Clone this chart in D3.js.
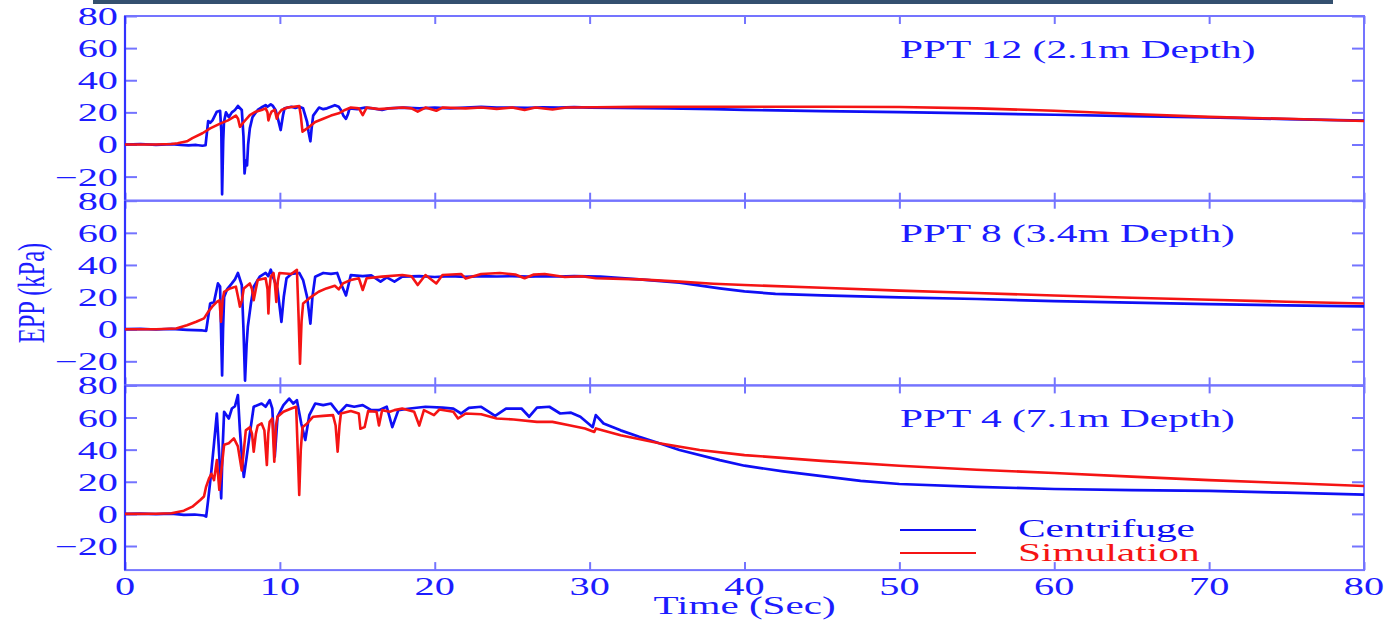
<!DOCTYPE html>
<html>
<head>
<meta charset="utf-8">
<script src="https://cdn.jsdelivr.net/npm/d3@7"></script>
<style>
  html, body { margin: 0; padding: 0; background: #ffffff; }
  svg { display: block; }
  text { font-family: "Liberation Serif", "DejaVu Serif", serif; }
</style>
</head>
<body>
<svg id="chart" width="1388" height="624"></svg>
<script>
// ---------------- DATA ----------------
const xTicks = [0, 10, 20, 30, 40, 50, 60, 70, 80];
const yTicks = [-20, 0, 20, 40, 60, 80];
const yTickLabels = ["\u221220", "0", "20", "40", "60", "80"];
const panelTitles = ["PPT 12 (2.1m Depth)", "PPT 8 (3.4m Depth)", "PPT 4 (7.1m Depth)"];
const seriesNames = ["Centrifuge", "Simulation"];
const xLabel = "Time (Sec)";
const yLabel = "EPP (kPa)";

// PPT 12 (2.1 m)
const ppt12Centrifuge = [[0,0],[1,0.3],[2,-0.2],[3,0.2],[3.6,-0.3],[4.1,-0.6],[4.6,-0.3],[5.0,-0.8],[5.2,-0.5],[5.37,14.6],[5.5,13.5],[5.65,15],[5.93,20.4],[6.14,21],[6.22,8],[6.27,-31],[6.34,2],[6.39,14],[6.52,20],[6.7,17],[6.9,20],[7.1,21.5],[7.29,24],[7.54,21.5],[7.65,5],[7.72,-18],[7.8,-10],[7.88,-13],[7.95,0],[8.06,10],[8.23,17],[8.57,21.5],[8.8,23],[9.08,24.5],[9.2,23.5],[9.41,25],[9.55,24],[9.72,21.5],[9.9,15],[10.05,9],[10.2,18],[10.3,22.5],[10.74,23.5],[11.0,22.8],[11.25,23.5],[11.5,22.5],[11.76,14],[11.85,8],[11.97,2],[12.05,10],[12.15,18],[12.53,23],[12.8,22],[13.04,22.5],[13.3,23.5],[13.55,24.5],[13.8,23.5],[13.94,21.5],[14.1,18],[14.27,16],[14.4,19],[14.5,22.5],[15,22],[15.5,23],[16,22.5],[16.6,21.5],[17,22.5],[18,23],[19,22.5],[20,23],[21,22.5],[22,23],[23,23.5],[24,23],[25,23],[26,22.8],[27,23.2],[28,23],[29,23.3],[30,23],[32,22.8],[35,22.5],[38,22],[40,21.5],[45,20.8],[50,20.2],[55,19.4],[60,18.5],[65,17.7],[70,16.9],[75,15.8],[80,14.8]];
const ppt12Simulation = [[0,0],[2,0],[3,0.3],[3.4,0.8],[4,2],[4.35,4],[5,7],[5.5,10],[6.14,13],[6.65,15],[7.16,18],[7.3,16],[7.42,11],[7.67,14],[8.06,18.3],[8.44,20.4],[8.82,21.5],[9.08,22.5],[9.2,20],[9.26,15],[9.35,18],[9.46,20.4],[9.67,21.5],[9.8,16],[9.9,19],[10.1,21.5],[10.49,23],[10.9,23.5],[11.25,24],[11.35,18],[11.46,8],[11.76,10],[12.28,14],[12.8,16],[13.3,18],[13.8,19.4],[14.2,21.5],[14.58,23],[15.1,22.5],[15.35,18.3],[15.6,23],[16.4,22],[17.9,23],[18.5,22.5],[18.9,20.4],[19.4,23],[20.1,21],[20.5,23],[22,22.5],[23,23],[24,22.2],[25,23],[25.8,21.5],[26.5,23],[27.6,21.8],[28.5,23],[30.4,23.2],[33,23.4],[36,23.5],[40,23.5],[45,23.5],[50,23.3],[55,22.5],[60,21],[65,19],[70,17.2],[75,16],[80,14.6]];

// PPT 8 (3.4 m)
const ppt8Centrifuge = [[0,0],[1,0.2],[2,-0.2],[3,0.2],[4,-0.4],[4.5,-0.6],[5.0,-0.8],[5.24,-1],[5.5,16],[5.75,17],[6.0,28.5],[6.14,26.5],[6.2,0],[6.27,-28.8],[6.33,0],[6.4,20],[6.6,25],[6.9,28.5],[7.1,31],[7.29,35],[7.54,27.5],[7.65,0],[7.75,-32],[7.85,-10],[7.93,1.5],[8.13,16],[8.31,26.5],[8.7,32.7],[9.08,35],[9.25,33],[9.41,37],[9.59,31.7],[9.85,25],[10.1,4.6],[10.25,20],[10.43,31.7],[10.74,34.4],[11.25,35],[11.5,30.6],[11.76,20],[11.97,3.5],[12.1,20],[12.28,32.7],[12.8,35],[13.3,34.4],[13.7,35],[13.94,28.5],[14.27,21],[14.58,33.7],[15.35,33],[15.9,33.5],[16.5,29.6],[16.9,32.3],[17.4,29.6],[17.9,32.7],[19,33],[20,32.5],[21,33],[22,32.6],[23,33],[24,32.8],[25,33],[26,32.7],[27,33],[28,32.8],[29,33],[30.7,32.7],[33.2,31],[35.8,29],[38.4,25.4],[40,23.5],[42,22],[45,21],[50,19.8],[55,18.8],[60,17.5],[65,16.5],[70,15.6],[75,14.8],[80,14.2]];
const ppt8Simulation = [[0,0],[2,0],[3.3,0.4],[4,2.5],[4.6,4.6],[5.1,6.7],[5.37,10.8],[5.63,14],[5.93,17],[6.1,18],[6.2,4.6],[6.3,18],[6.4,23.3],[6.78,25.4],[7.16,26.5],[7.3,20],[7.42,14],[7.55,18],[7.67,25.4],[8.06,28.5],[8.2,25],[8.31,18],[8.45,25],[8.57,30.6],[9.08,31.7],[9.2,25],[9.26,9.8],[9.33,25],[9.41,32.7],[9.59,35],[9.68,28],[9.77,17],[9.87,30],[9.97,35],[10.74,34.4],[11.1,37],[11.2,10],[11.3,-21.5],[11.4,5],[11.5,16],[12,20],[12.5,23.3],[13,25.4],[13.55,27],[13.8,24.8],[14.07,28.5],[14.58,30.6],[15.1,31.7],[15.35,24.4],[15.6,31.7],[16.6,32.7],[17.9,33.7],[18.5,33],[18.9,27.5],[19.4,33.7],[20.1,28.5],[20.5,33.7],[21.7,34.4],[22,31.5],[23,34.4],[24.2,35],[25.2,34],[25.8,31.7],[26.4,34],[27.1,34.4],[28.4,32.5],[29.5,33],[30.4,31.7],[33.2,31],[35.8,29.6],[38,28.3],[40,27.5],[45,25.8],[50,24],[55,22.5],[60,21],[65,19.6],[70,18.3],[75,17.1],[80,16]];

// PPT 4 (7.1 m)
const ppt4Centrifuge = [[0,0],[1,0.2],[2,-0.2],[3,0.2],[3.8,-0.6],[4.5,-0.4],[5.1,-1],[5.24,-1.7],[5.37,8.7],[5.58,27],[5.75,44],[5.93,62.5],[6.09,35.6],[6.21,9.7],[6.3,40],[6.4,63.6],[6.7,59.4],[6.9,65.6],[7.1,67],[7.29,74],[7.42,52],[7.55,35],[7.67,23],[7.85,35],[8.06,50],[8.31,66.7],[8.82,68.7],[9.08,66.7],[9.34,70.8],[9.51,65.6],[9.67,35.6],[9.85,60.5],[10.23,67.7],[10.6,71.8],[10.87,68.7],[11.1,70.8],[11.38,56.3],[11.64,46],[11.9,61.5],[12.28,68.7],[12.8,67.7],[13.3,68.7],[13.8,62.5],[14.3,67.7],[14.8,66.7],[15.35,67.7],[15.9,64.6],[16.4,64.6],[16.9,66.7],[17.26,54],[17.65,64.6],[18.4,65.6],[19.4,66.7],[20.5,66.2],[21.2,65.5],[21.7,62.5],[22.2,66],[23,66.7],[23.9,61],[24.6,65.6],[25.6,65.6],[26.1,60.5],[26.6,66.2],[27.4,66.7],[28.1,62.5],[28.8,63],[29.4,60.5],[30.2,54],[30.4,61.5],[30.9,56.3],[32,52],[33.2,48],[34.5,44],[35.8,39.8],[38.4,33.5],[40,30],[42.5,26.5],[45,23.5],[47.5,20.5],[50,18.6],[55,16.8],[60,15.5],[65,14.8],[70,14.3],[75,13.2],[80,12]];
const ppt4Simulation = [[0,0],[2,0.1],[3,0.4],[3.8,2],[4.35,4.5],[4.86,8.7],[5.1,10.8],[5.24,17],[5.42,22],[5.58,25],[5.75,21],[5.93,33.5],[6.09,15],[6.27,31.5],[6.4,43],[6.7,44],[7.03,47],[7.29,42],[7.54,27],[7.8,52],[8.06,54],[8.2,50],[8.31,38.7],[8.45,50],[8.57,55],[8.82,56.3],[9.0,52],[9.16,30.4],[9.25,50],[9.34,57.3],[9.51,59.4],[9.64,32.5],[9.75,55],[9.85,60.5],[10.23,63.6],[10.74,65.6],[11.05,66.7],[11.15,40],[11.25,11.8],[11.35,40],[11.46,54],[11.76,56.3],[12.15,60.5],[12.8,61],[13.43,61.5],[13.6,55],[13.73,38.7],[13.85,55],[13.94,62.5],[14.58,64],[15.1,62.5],[15.2,53],[15.47,54],[15.7,64],[16.24,63.6],[16.4,55],[16.6,64.6],[17.1,63.6],[17.4,64.6],[17.9,65.6],[18.67,63.6],[19,55],[19.3,64.6],[19.95,61.5],[20.3,65],[21.2,63.6],[21.5,59.4],[22,62.5],[23,62],[24,59.4],[25.1,58.8],[26.6,57.3],[27.6,57.3],[28.6,55.3],[29.7,53.2],[30.3,51],[30.4,53.2],[32,49],[34.5,44],[37.1,39.8],[40,36.6],[45,33],[50,30],[55,27.5],[60,25.5],[65,23.2],[70,21],[75,19.2],[80,17.4]];

// ---------------- DRAW ----------------
const panels = [
  { title: panelTitles[0], cent: ppt12Centrifuge, sim: ppt12Simulation },
  { title: panelTitles[1], cent: ppt8Centrifuge, sim: ppt8Simulation },
  { title: panelTitles[2], cent: ppt4Centrifuge, sim: ppt4Simulation }
];

const BLUE = "#0f0ff5", RED = "#f51414";
const FRAME = "#7474ff", AXISL = "#3232ff", LABEL = "#1c1cff";
const SX = 1.58;

const svg = d3.select("#chart");
const left = 125, right = 1364, top0 = 16, panelH = 184.7;

const x = d3.scaleLinear().domain([0, 80]).range([left, right]);

// top decorative bar
svg.append("rect").attr("x", 93).attr("y", 0).attr("width", 1240).attr("height", 4).attr("fill", "#34506f");

function stretchedText(g, str, px, py, anchor, size, color) {
  return g.append("text")
    .attr("transform", `translate(${px},${py}) scale(${SX},1)`)
    .attr("text-anchor", anchor)
    .attr("font-size", size)
    .attr("fill", color)
    .text(str);
}

panels.forEach((p, i) => {
  const top = top0 + i * panelH;
  const bottom = top + panelH;
  const y = d3.scaleLinear().domain([-35, 80]).range([bottom, top]);
  const g = svg.append("g");

  const clipId = "clip" + i;
  svg.append("clipPath").attr("id", clipId)
    .append("rect").attr("x", left).attr("y", top).attr("width", right - left).attr("height", panelH);

  // ticks via d3 axes (inward)
  const axL = d3.axisLeft(y).tickValues(yTicks).tickSizeInner(-12).tickSizeOuter(0).tickFormat("");
  const axR = d3.axisRight(y).tickValues(yTicks).tickSizeInner(-12).tickSizeOuter(0).tickFormat("");
  const axT = d3.axisTop(x).tickValues(xTicks).tickSizeInner(-8).tickSizeOuter(0).tickFormat("");
  const axB = d3.axisBottom(x).tickValues(xTicks).tickSizeInner(-8).tickSizeOuter(0).tickFormat("");
  [[axL, `translate(${left},0)`], [axR, `translate(${right},0)`], [axT, `translate(0,${top})`], [axB, `translate(0,${bottom})`]]
    .forEach(([ax, tr]) => {
      const a = g.append("g").attr("transform", tr).call(ax);
      a.select(".domain").remove();
      a.selectAll(".tick line").attr("stroke", FRAME).attr("stroke-width", 2);
    });

  // frame
  g.append("rect").attr("x", left).attr("y", top).attr("width", right - left).attr("height", panelH)
    .attr("fill", "none").attr("stroke", FRAME).attr("stroke-width", 2);
  g.append("line").attr("x1", left).attr("x2", left).attr("y1", top).attr("y2", bottom)
    .attr("stroke", AXISL).attr("stroke-width", 2.2);

  // y tick labels
  yTicks.forEach((v, k) => {
    stretchedText(g, yTickLabels[k], 118, y(v) + 9, "end", 25.5, LABEL);
  });

  // lines
  const line = d3.line().x(d => x(d[0])).y(d => y(d[1]));
  const lg = g.append("g").attr("clip-path", `url(#${clipId})`);
  lg.append("path").datum(p.cent).attr("d", line).attr("fill", "none")
    .attr("stroke", BLUE).attr("stroke-width", 2.7).attr("stroke-linejoin", "round");
  lg.append("path").datum(p.sim).attr("d", line).attr("fill", "none")
    .attr("stroke", RED).attr("stroke-width", 2.6).attr("stroke-linejoin", "round");

  // title
  stretchedText(g, p.title, 900, top + 41.5, "start", 26.2, LABEL);

  if (i === panels.length - 1) {
    xTicks.forEach(v => stretchedText(g, String(v), x(v), bottom + 25, "middle", 25.5, LABEL));
    stretchedText(g, xLabel, (left + right) / 2 + 0, bottom + 44, "middle", 26, LABEL);

    // legend
    const lgd = [[seriesNames[0], BLUE, 530, 537], [seriesNames[1], RED, 553, 561]];
    lgd.forEach(([name, col, ly, ty]) => {
      g.append("line").attr("x1", 900).attr("x2", 976).attr("y1", ly).attr("y2", ly)
        .attr("stroke", col).attr("stroke-width", 2);
      stretchedText(g, name, 1018, ty, "start", 26.2, col);
    });
  }
});

// y axis label
svg.append("text")
  .attr("transform", `translate(44,293) scale(${SX},1) rotate(-90)`)
  .attr("text-anchor", "middle")
  .attr("font-size", 24.5)
  .attr("fill", LABEL)
  .text(yLabel);
</script>
</body>
</html>
